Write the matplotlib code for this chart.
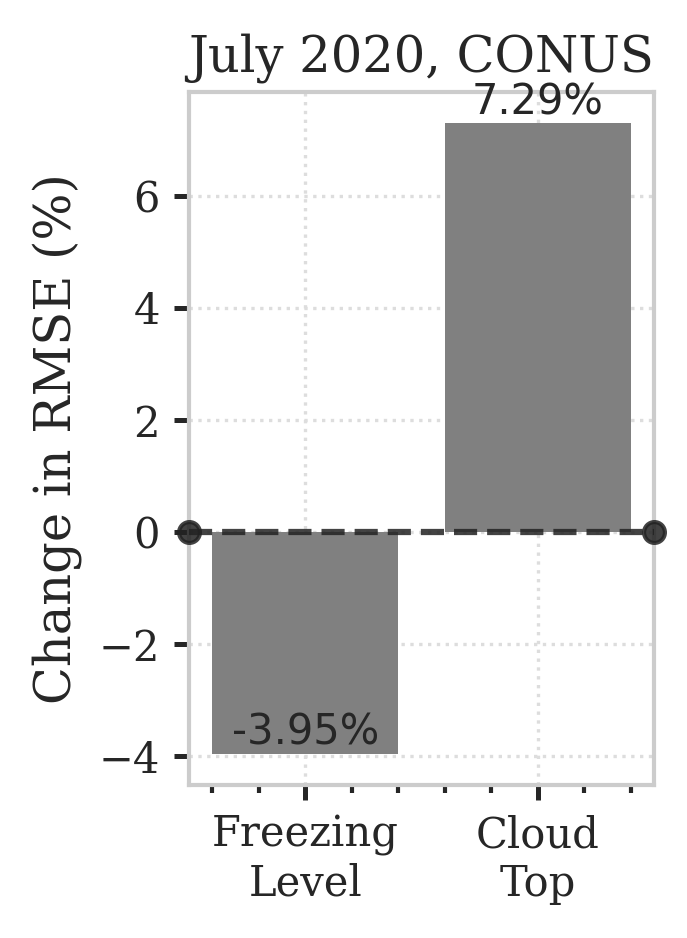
import matplotlib
matplotlib.use("Agg")
import matplotlib.pyplot as plt
from matplotlib.ticker import MultipleLocator

categories = ["Freezing\nLevel", "Cloud\nTop"]
values = [-3.95, 7.29]
labels = ["-3.95%", "7.29%"]
title = "July 2020, CONUS"
ylabel = "Change in RMSE (%)"

plt.rcParams['font.family'] = ['DejaVu Serif']
fig = plt.figure(figsize=(687/300, 938/300), dpi=300)
ax = fig.add_axes([0.275, 0.163, 0.677, 0.739])

x = list(range(len(categories)))
bars = ax.bar(x, values, width=0.8, color='#808080', zorder=2)
ax.plot([-0.5, 1.5], [0, 0], linestyle='--', color='#222222', lw=1.5,
        marker='o', markersize=5, alpha=0.85, zorder=3, clip_on=False)

for xi, v, lab in zip(x, values, labels):
    ax.text(xi, v, lab, ha='center', va='bottom', fontsize=10,
            family='DejaVu Sans', color='#262626', zorder=4)

ax.set_xlim(-0.5, 1.5)
ax.margins(y=0.05)
ax.set_xticks(x)
ax.set_xticklabels(categories, fontsize=10, color='#262626')
ax.xaxis.set_minor_locator(MultipleLocator(0.2))
ax.set_yticks([-4, -2, 0, 2, 4, 6])
ax.set_yticklabels(["\u22124", "\u22122", "0", "2", "4", "6"], fontsize=10, color='#262626')
ax.tick_params(axis='both', which='major', length=3.5, width=1.2, color='#262626', direction='out')
ax.tick_params(axis='x', which='minor', length=2, width=1.0, color='#262626')
ax.set_ylabel(ylabel, fontsize=11.9, color='#262626')
ax.set_title(title, fontsize=11.9, color='#262626', pad=5)
ax.grid(True, which='major', linestyle=':', color='#dddddd', lw=0.8, zorder=0)
for s in ax.spines.values():
    s.set_color('#cccccc')
    s.set_linewidth(1.0)

fig.savefig("out.png", dpi=300)
